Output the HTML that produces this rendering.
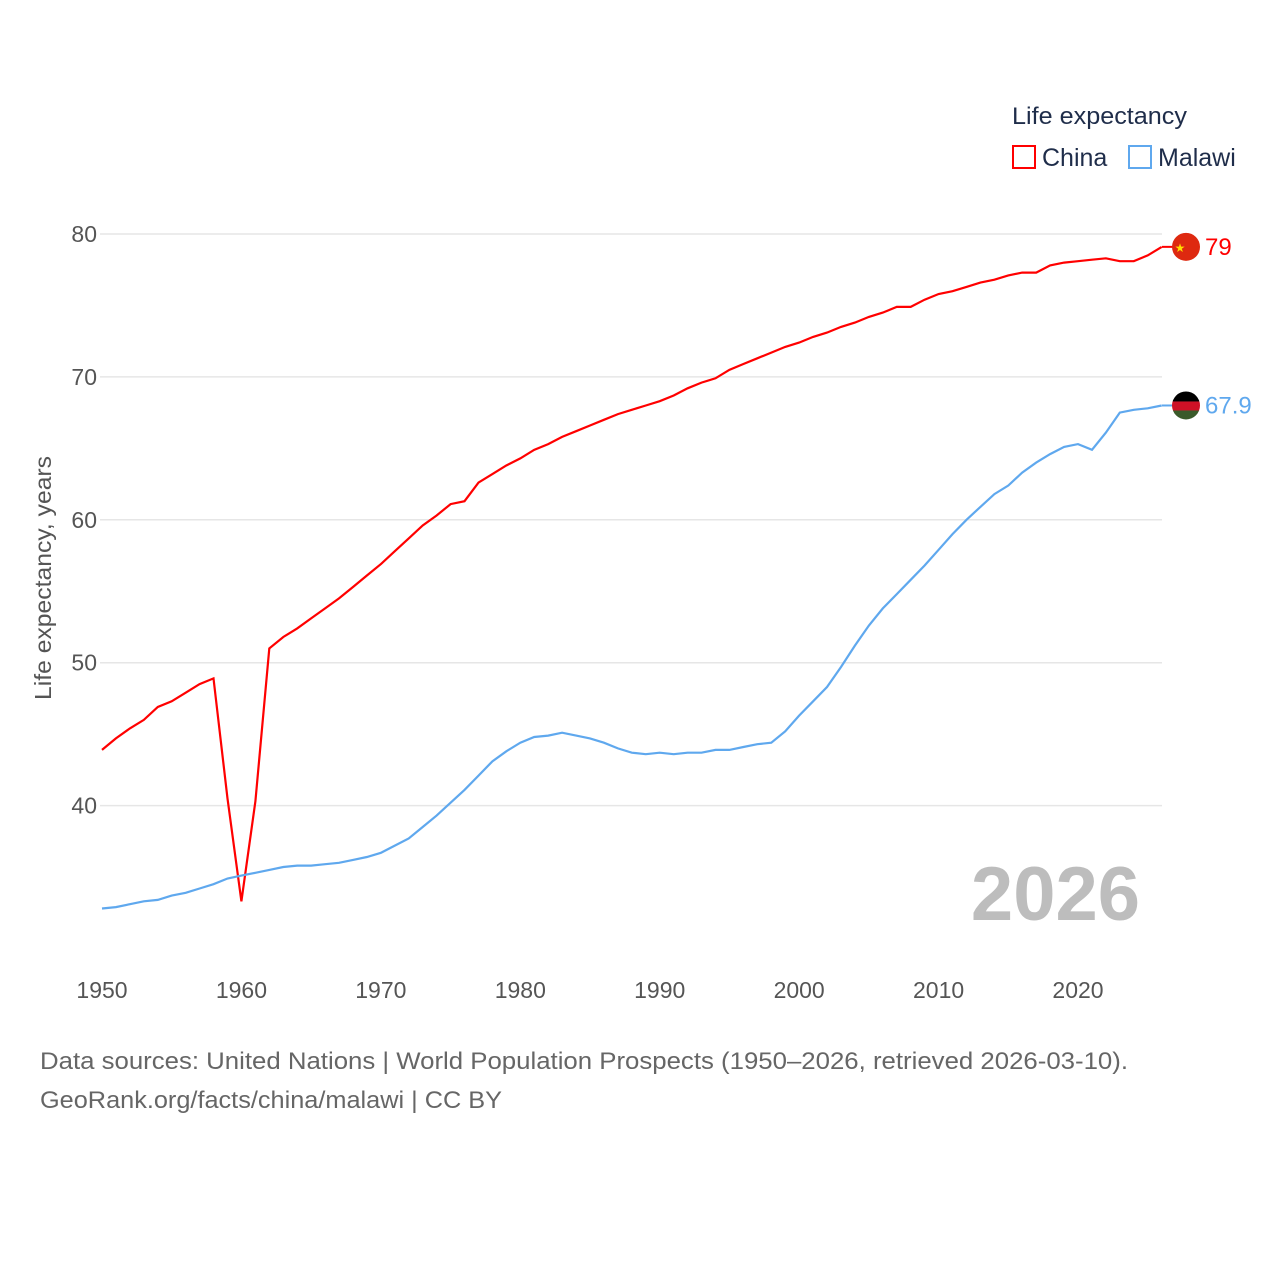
<!DOCTYPE html>
<html><head><meta charset="utf-8"><style>
body{margin:0;background:#fff;}
svg text{font-family:"Liberation Sans",sans-serif;}
</style></head><body>
<svg width="1280" height="1280" xmlns="http://www.w3.org/2000/svg">
<g id="grid"></g><g id="ticks"></g>
<text transform="translate(51,578) rotate(-90)" text-anchor="middle" font-size="23" fill="#555" textLength="244" lengthAdjust="spacingAndGlyphs">Life expectancy, years</text>
<text x="1140" y="920" text-anchor="end" font-size="76" font-weight="bold" fill="#bdbdbd">2026</text>
<g id="lines"></g>
<g>
<text x="1012" y="124" font-size="24" fill="#1f2d4a" textLength="175" lengthAdjust="spacingAndGlyphs">Life expectancy</text>
<rect x="1013" y="146" width="22" height="22" fill="none" stroke="#ff0000" stroke-width="2"/>
<text x="1042" y="166" font-size="25" fill="#1f2d4a">China</text>
<rect x="1129" y="146" width="22" height="22" fill="none" stroke="#5fa8ee" stroke-width="2"/>
<text x="1158" y="166" font-size="25" fill="#1f2d4a">Malawi</text>
</g>
<text x="40" y="1069" font-size="24" fill="#666" textLength="1088" lengthAdjust="spacingAndGlyphs">Data sources: United Nations | World Population Prospects (1950–2026, retrieved 2026-03-10).</text>
<text x="40" y="1108" font-size="24" fill="#666" textLength="462" lengthAdjust="spacingAndGlyphs">GeoRank.org/facts/china/malawi | CC BY</text>
</svg>
<script>
const years=[];for(let y=1950;y<=2026;y++)years.push(y);
const china=[43.9,44.7,45.4,46.0,46.9,47.3,47.9,48.5,48.9,40.5,33.3,40.3,51.0,51.8,52.4,53.1,53.8,54.5,55.3,56.1,56.9,57.8,58.7,59.6,60.3,61.1,61.3,62.6,63.2,63.8,64.3,64.9,65.3,65.8,66.2,66.6,67.0,67.4,67.7,68.0,68.3,68.7,69.2,69.6,69.9,70.5,70.9,71.3,71.7,72.1,72.4,72.8,73.1,73.5,73.8,74.2,74.5,74.9,74.9,75.4,75.8,76.0,76.3,76.6,76.8,77.1,77.3,77.3,77.8,78.0,78.1,78.2,78.3,78.1,78.1,78.5,79.1];
const malawi=[32.8,32.9,33.1,33.3,33.4,33.7,33.9,34.2,34.5,34.9,35.1,35.3,35.5,35.7,35.8,35.8,35.9,36.0,36.2,36.4,36.7,37.2,37.7,38.5,39.3,40.2,41.1,42.1,43.1,43.8,44.4,44.8,44.9,45.1,44.9,44.7,44.4,44.0,43.7,43.6,43.7,43.6,43.7,43.7,43.9,43.9,44.1,44.3,44.4,45.2,46.3,47.3,48.3,49.7,51.2,52.6,53.8,54.8,55.8,56.8,57.9,59.0,60.0,60.9,61.8,62.4,63.3,64.0,64.6,65.1,65.3,64.9,66.1,67.5,67.7,67.8,68.0];
const yTicks=[40,50,60,70,80];
const xTicks=[1950,1960,1970,1980,1990,2000,2010,2020];
const chinaLabel="79", malawiLabel="67.9";
const X=y=>102+(y-1950)*13.943, Y=v=>234+(80-v)*14.29;
const NS="http://www.w3.org/2000/svg";
function mk(tag,attrs,parent,txt){const e=document.createElementNS(NS,tag);for(const k in attrs)e.setAttribute(k,attrs[k]);if(txt!=null)e.textContent=txt;parent.appendChild(e);return e;}
const grid=document.getElementById('grid'),ticks=document.getElementById('ticks'),lines=document.getElementById('lines');
yTicks.forEach(t=>{const l=mk('line',{x1:100,x2:1162,y1:Y(t),y2:Y(t),stroke:'#e6e6e6','stroke-width':1.5},grid);


const tx=mk('text',{x:97,y:Y(t)+8,'text-anchor':'end','font-size':23,fill:'#555'},ticks,t);

});
xTicks.forEach(t=>{const tx=mk('text',{x:X(t),y:998,'text-anchor':'middle','font-size':23,fill:'#555'},ticks,t);

});
function line(vals,color,name){const p=mk('path',{d:vals.map((v,i)=>(i?'L':'M')+X(years[i]).toFixed(1)+','+Y(v).toFixed(1)).join(''),fill:'none',stroke:color,'stroke-width':2.2},lines);

}
line(china,'#ff0000','china-line');line(malawi,'#5fa8ee','malawi-line');
const cl=china[china.length-1],ml=malawi[malawi.length-1];
const cy=Y(cl),my=Y(ml);
mk('line',{x1:1162,x2:1175,y1:cy,y2:cy,stroke:'#ff0000','stroke-width':2},lines);
mk('line',{x1:1162,x2:1175,y1:my,y2:my,stroke:'#5fa8ee','stroke-width':2},lines);
const cf=mk('circle',{cx:1186,cy:cy,r:14,fill:'#de2910'},lines);


mk('text',{x:1180,y:cy+5,'font-size':12,fill:'#ffde00','text-anchor':'middle'},lines,'★');
const mg=mk('g',{},lines);


mk('clipPath',{id:'mc'},mg);mk('circle',{cx:1186,cy:my,r:14},document.getElementById('mc'));
mk('rect',{x:1172,y:my-14,width:28,height:10,fill:'#000','clip-path':'url(#mc)'},mg);
mk('rect',{x:1172,y:my-4,width:28,height:9,fill:'#ce1126','clip-path':'url(#mc)'},mg);
mk('rect',{x:1172,y:my+5,width:28,height:10,fill:'#3a5a2a','clip-path':'url(#mc)'},mg);
const t1=mk('text',{x:1205,y:cy+8,'font-size':24,fill:'#ff0000'},lines,chinaLabel);


const t2=mk('text',{x:1205,y:my+8,'font-size':24,fill:'#5fa8ee'},lines,malawiLabel);


</script>
</body></html>
